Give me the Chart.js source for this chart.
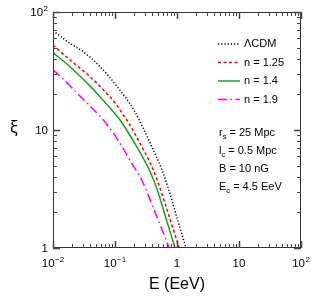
<!DOCTYPE html>
<html>
<head>
<meta charset="utf-8">
<script src="https://cdn.jsdelivr.net/npm/chart.js@4.4.0/dist/chart.umd.min.js"></script>
<style>
  html, body { margin: 0; padding: 0; background: #fff; }
</style>
</head>
<body>
<canvas id="chart" width="315" height="302"></canvas>
<script>
// curves (E in EeV, xi dimensionless)
const energyLcdm = [0.01, 0.0188, 0.0308, 0.0573, 0.1064, 0.197, 0.286, 0.367, 0.573, 0.724, 1.0, 1.397];
const xiLcdm     = [69.4, 54.3, 46.1, 34.5, 23.6, 15.1, 10.3, 7.8, 4.58, 3.21, 1.80, 1.0];

const energyN125 = [0.01, 0.0188, 0.0395, 0.0573, 0.1064, 0.136, 0.1745, 0.253, 0.415, 0.532, 0.771, 1.089];
const xiN125     = [52.5, 39.2, 28.3, 23.4, 16.3, 13.4, 11.0, 7.72, 4.58, 3.21, 1.76, 1.0];

const energyN14 = [0.01, 0.0188, 0.0447, 0.0573, 0.094, 0.1205, 0.145, 0.224, 0.364, 0.471, 0.665, 0.929];
const xiN14     = [45.2, 34.4, 22.1, 19.1, 14.3, 12.15, 10.5, 7.22, 4.49, 3.21, 1.78, 1.0];

const energyN19 = [0.01, 0.0156, 0.0212, 0.061, 0.0735, 0.1205, 0.186, 0.253, 0.286, 0.415, 0.751];
const xiN19     = [32.3, 26.2, 22.1, 12.6, 11.2, 7.72, 5.22, 4.02, 3.53, 2.19, 1.0];

const seriesLabels = ['\u039BCDM', 'n = 1.25', 'n = 1.4', 'n = 1.9'];

const xTickValues = [0.01, 0.1, 1, 10, 100];
const xTickLabels = [['10', '\u22122'], ['10', '\u22121'], ['1', ''], ['10', ''], ['10', '2']];
const yTickValues = [1, 10, 100];
const yTickLabels = [['1', ''], ['10', ''], ['10', '2']];

const xTitle = 'E (EeV)';
const yTitle = '\u03BE';

// [main, subscript, rest]
const paramLines = [
  ['r', 's', ' = 25 Mpc'],
  ['l', 'c', ' = 0.5 Mpc'],
  ['B', '', ' = 10 nG'],
  ['E', 'c', ' = 4.5 EeV']
];

const FONT = '"Liberation Sans", Arial, sans-serif';

function toPoints(xs, ys) {
  return xs.map((x, i) => ({ x: x, y: ys[i] }));
}

function line(label, xs, ys, color, dash) {
  return {
    label: label,
    data: toPoints(xs, ys),
    showLine: true,
    borderColor: color,
    backgroundColor: color,
    borderWidth: 1.5,
    borderDash: dash,
    pointRadius: 0,
    cubicInterpolationMode: 'monotone',
    fill: false
  };
}

const frameAndText = {
  id: 'frameAndText',
  afterDraw(chart) {
    const ctx = chart.ctx;
    const area = chart.chartArea;
    const xs = chart.scales.x;
    const ys = chart.scales.y;
    ctx.save();

    // frame
    ctx.strokeStyle = '#333';
    ctx.lineWidth = 1;
    ctx.strokeRect(Math.round(area.left) + 0.5, Math.round(area.top) + 0.5,
      Math.round(area.right - area.left) - 1, Math.round(area.bottom - area.top) - 1);

    // inward ticks on all four sides
    ctx.strokeStyle = '#444';
    function logTicks(min, max, cb) {
      for (let d = Math.floor(Math.log10(min)); d < Math.ceil(Math.log10(max)) + 1; d++) {
        for (let k = 1; k <= 9; k++) {
          const v = k * Math.pow(10, d);
          if (v < min * 0.999 || v > max * 1.001) continue;
          cb(v, k === 1);
        }
      }
    }
    logTicks(xs.min, xs.max, (v, major) => {
      const px = Math.round(xs.getPixelForValue(v)) + 0.5;
      const len = major ? 7 : 4;
      ctx.lineWidth = major ? 1.5 : 1;
      ctx.beginPath();
      ctx.moveTo(px, area.bottom); ctx.lineTo(px, area.bottom - len);
      ctx.moveTo(px, area.top); ctx.lineTo(px, area.top + len);
      ctx.stroke();
    });
    logTicks(ys.min, ys.max, (v, major) => {
      const py = Math.round(ys.getPixelForValue(v)) + 0.5;
      const len = major ? 7 : 4;
      ctx.lineWidth = major ? 1.5 : 1;
      ctx.beginPath();
      ctx.moveTo(area.left, py); ctx.lineTo(area.left + len, py);
      ctx.moveTo(area.right, py); ctx.lineTo(area.right - len, py);
      ctx.stroke();
    });

    // tick labels with superscripts
    ctx.fillStyle = '#000';
    ctx.textBaseline = 'alphabetic';
    const mainFont = '11.5px ' + FONT;
    const supFont = '8px ' + FONT;
    function labelWidth(parts) {
      ctx.font = mainFont;
      let w = ctx.measureText(parts[0]).width;
      ctx.font = supFont;
      if (parts[1]) w += ctx.measureText(parts[1]).width + 0.5;
      return w;
    }
    function drawLabel(parts, x, baseline) {
      ctx.textAlign = 'left';
      ctx.font = mainFont;
      ctx.fillText(parts[0], x, baseline);
      const w = ctx.measureText(parts[0]).width;
      if (parts[1]) {
        ctx.font = supFont;
        ctx.fillText(parts[1], x + w + 0.5, baseline - 5);
      }
    }
    xTickValues.forEach((v, i) => {
      const px = xs.getPixelForValue(v);
      const w = labelWidth(xTickLabels[i]);
      drawLabel(xTickLabels[i], px - w / 2, area.bottom + 19);
    });
    yTickValues.forEach((v, i) => {
      const py = ys.getPixelForValue(v);
      const w = labelWidth(yTickLabels[i]);
      drawLabel(yTickLabels[i], area.left - 5 - w, py + 4);
    });

    // axis titles
    ctx.font = '16px ' + FONT;
    ctx.textAlign = 'center';
    ctx.fillText(xTitle, (area.left + area.right) / 2, area.bottom + 41);
    ctx.font = '16px "Noto Sans", ' + FONT;
    ctx.fillText(yTitle, 14, ys.getPixelForValue(10) + 3);

    // legend
    const legX = 218, legLen = 22, legY0 = 44, legStep = 18.5;
    chart.data.datasets.forEach((ds, i) => {
      const y = legY0 + i * legStep;
      ctx.strokeStyle = ds.borderColor;
      ctx.lineWidth = ds.borderWidth;
      ctx.setLineDash(ds.borderDash || []);
      ctx.beginPath();
      ctx.moveTo(legX, y); ctx.lineTo(legX + legLen, y);
      ctx.stroke();
      ctx.setLineDash([]);
      ctx.fillStyle = '#000';
      ctx.font = '11px ' + FONT;
      ctx.textAlign = 'left';
      ctx.textBaseline = 'middle';
      ctx.fillText(ds.label, legX + legLen + 4, y);
    });

    // model parameters
    ctx.textBaseline = 'middle';
    paramLines.forEach((p, i) => {
      const y = 133 + i * 18;
      let x = 219;
      ctx.font = '11px ' + FONT;
      ctx.fillText(p[0], x, y);
      x += ctx.measureText(p[0]).width;
      if (p[1]) {
        ctx.font = '7.5px ' + FONT;
        ctx.fillText(p[1], x, y + 3.5);
        x += ctx.measureText(p[1]).width;
      }
      ctx.font = '11px ' + FONT;
      ctx.fillText(p[2], x, y);
    });

    ctx.restore();
  }
};

new Chart(document.getElementById('chart'), {
  type: 'scatter',
  data: {
    datasets: [
      line(seriesLabels[0], energyLcdm, xiLcdm, '#000000', [1.2, 2]),
      line(seriesLabels[1], energyN125, xiN125, '#ff0000', [3, 2.5]),
      line(seriesLabels[2], energyN14, xiN14, '#1f9e1f', []),
      line(seriesLabels[3], energyN19, xiN19, '#ff00ff', [9, 3.5, 1.5, 3.5])
    ]
  },
  options: {
    responsive: false,
    animation: false,
    layout: { padding: { left: 53, right: 14, top: 12, bottom: 54 } },
    plugins: { legend: { display: false }, tooltip: { enabled: false } },
    scales: {
      x: { type: 'logarithmic', min: 0.01, max: 100, display: false },
      y: { type: 'logarithmic', min: 1, max: 100, display: false }
    }
  },
  plugins: [frameAndText]
});
</script>
</body>
</html>
